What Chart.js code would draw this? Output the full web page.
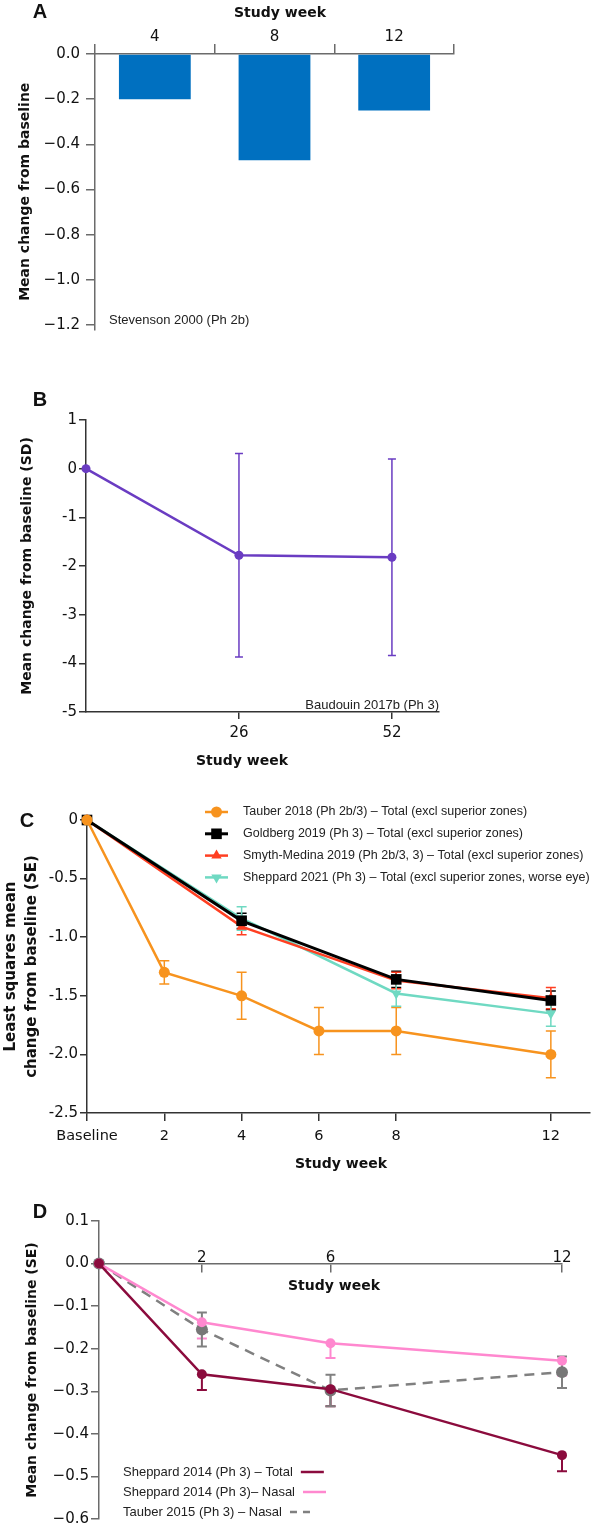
<!DOCTYPE html>
<html>
<head>
<meta charset="utf-8">
<script src="https://cdn.jsdelivr.net/npm/chart.js@4.4.1/dist/chart.umd.min.js"></script>
<style>
  body { margin: 0; width: 597px; height: 1530px; position: relative; background: #fff; overflow: hidden; }
  canvas { position: absolute; left: 0; }
  .c { position: absolute; white-space: nowrap; transform: translate(-50%, -50%); color: #111; }
  .panel { font: bold 20px "Liberation Sans", Arial, sans-serif; }
  .xt { font: bold 14px "DejaVu Sans", sans-serif; }
  .note { position: absolute; white-space: nowrap; transform: translateY(-50%); font: 13px "Liberation Sans", Arial, sans-serif; color: #222; }
</style>
</head>
<body>
<canvas id="chartA" width="597" height="345" style="top:0"></canvas>
<canvas id="chartB" width="597" height="400" style="top:380px"></canvas>
<canvas id="chartC" width="597" height="400" style="top:785px"></canvas>
<canvas id="chartD" width="597" height="340" style="top:1190px"></canvas>

<div class="c panel" style="left:40px;top:11px">A</div>
<div class="c xt" style="left:280px;top:12px">Study week</div>
<div class="note" style="left:109px;top:319px">Stevenson 2000 (Ph 2b)</div>

<div class="c panel" style="left:40px;top:399px">B</div>
<div class="c xt" style="left:242px;top:760px">Study week</div>
<div class="note" style="right:158px;top:704px">Baudouin 2017b (Ph 3)</div>

<div class="c panel" style="left:27px;top:820px">C</div>
<div class="c xt" style="left:341px;top:1163px">Study week</div>

<div class="c panel" style="left:40px;top:1211px">D</div>
<div class="c xt" style="left:334px;top:1285px">Study week</div>

<script>
// ---- A: Stevenson 2000 (Ph 2b), bars
const weeksA = ['4', '8', '12'];
const changeA = [-0.2, -0.47, -0.25];
const yTicksA = [0, -0.2, -0.4, -0.6, -0.8, -1.0, -1.2];

// ---- B: Baudouin 2017b (Ph 3), mean (SD)
const weeksB = [0, 26, 52];
const meanB = [0, -1.78, -1.82];
const sdB = [0, 2.09, 2.02];
const xTicksB = [26, 52];

// ---- C: least squares mean change (SE)
const weeksTauber18 = [0, 2, 4, 6, 8, 12];
const tauber18 = [0, -1.3, -1.5, -1.8, -1.8, -2.0];
const tauber18SE = [0, 0.1, 0.2, 0.2, 0.2, 0.2];
const weeksOther = [0, 4, 8, 12];
const goldberg19 = [0, -0.86, -1.36, -1.54];
const goldberg19SE = [0, 0.065, 0.07, 0.08];
const smyth19 = [0, -0.91, -1.37, -1.52];
const smyth19SE = [0, 0.07, 0.07, 0.09];
const sheppard21 = [0, -0.84, -1.48, -1.65];
const sheppard21SE = [0, 0.1, 0.11, 0.11];
const xTicksC = [0, 2, 4, 6, 8, 12];

// ---- D: mean change (SE)
const weeksD = [0, 2, 6, 12];
const shepTotal = [0, -0.26, -0.295, -0.45];
const shepTotalSE = [0, 0.037, 0.04, 0.038];
const shepNasal = [0, -0.138, -0.187, -0.228];
const shepNasalSE = [0, 0.038, 0.035, 0.035];
const tauber15 = [0, -0.155, -0.298, -0.255];
const tauber15SE = [0, 0.04, 0.037, 0.037];
const xTicksD = [2, 6, 12];

Chart.defaults.font.family = '"DejaVu Sans", sans-serif';
Chart.defaults.color = '#111';
Chart.defaults.animation = false;
Chart.defaults.plugins.legend.display = false;
Chart.defaults.plugins.tooltip.enabled = false;

const pts = (xs, ys) => xs.map((x, i) => ({ x: x, y: ys[i] }));
const minus = s => s.replace('-', '\u2212');
const setTicks = vals => s => { s.ticks = vals.map(v => ({ value: v })); };

// x axis for D is not evenly spaced in the source: piecewise linear between weeks
class StretchScale extends Chart.LinearScale {
  _pieces() {
    const k = weeksD, w = this.options.spans;
    const total = w.reduce((a, b) => a + b, 0);
    return { k, w, total };
  }
  getPixelForValue(value) {
    const { k, w, total } = this._pieces();
    let acc = 0;
    for (let i = 0; i < w.length; i++) {
      if (value <= k[i + 1] || i === w.length - 1) {
        const f = (acc + (value - k[i]) / (k[i + 1] - k[i]) * w[i]) / total;
        return this.getPixelForDecimal(f);
      }
      acc += w[i];
    }
  }
  getValueForPixel(pixel) {
    const { k, w, total } = this._pieces();
    const f = this.getDecimalForPixel(pixel) * total;
    let acc = 0;
    for (let i = 0; i < w.length; i++) {
      if (f <= acc + w[i] || i === w.length - 1) return k[i] + (f - acc) / w[i] * (k[i + 1] - k[i]);
      acc += w[i];
    }
  }
}
StretchScale.id = 'stretch';
StretchScale.defaults = Chart.LinearScale.defaults;
Chart.register(StretchScale);

const errorBars = {
  id: 'errorBars',
  beforeDatasetsDraw(chart) {
    const ctx = chart.ctx;
    chart.data.datasets.forEach((ds, i) => {
      if (!ds.err) return;
      const meta = chart.getDatasetMeta(i);
      const ys = chart.scales[meta.yAxisID];
      ctx.save();
      ctx.strokeStyle = ds.errColor || ds.borderColor;
      ctx.lineWidth = ds.errWidth || 1.5;
      ctx.setLineDash([]);
      meta.data.forEach((pt, j) => {
        const e = ds.err[j];
        if (!e) return;
        const v = ds.data[j].y;
        const hi = ys.getPixelForValue(v + e);
        const lo = ys.getPixelForValue(v - e);
        const c = ds.capHalf || 4;
        ctx.beginPath();
        ctx.moveTo(pt.x, ds.errDown ? pt.y : hi);
        ctx.lineTo(pt.x, lo);
        ctx.moveTo(pt.x - c, lo); ctx.lineTo(pt.x + c, lo);
        if (!ds.errDown) { ctx.moveTo(pt.x - c, hi); ctx.lineTo(pt.x + c, hi); }
        ctx.stroke();
      });
      ctx.restore();
    });
  }
};

const lineLegend = {
  id: 'lineLegend',
  afterDraw(chart, args, o) {
    if (!o.rows) return;
    const ctx = chart.ctx;
    ctx.save();
    ctx.font = o.font;
    ctx.textBaseline = 'middle';
    chart.data.datasets.forEach((ds, i) => {
      const y = o.y + i * o.rowH;
      let tx = o.x + o.lineW + o.gap, lx = o.x;
      if (o.textFirst) { tx = o.x; lx = o.x + ctx.measureText(ds.label).width + o.gap; }
      ctx.fillStyle = '#222';
      ctx.fillText(ds.label, tx, y);
      ctx.strokeStyle = ds.borderColor;
      ctx.lineWidth = ds.borderWidth;
      ctx.setLineDash(ds.legendDash || []);
      ctx.beginPath(); ctx.moveTo(lx, y); ctx.lineTo(lx + o.lineW, y); ctx.stroke();
      ctx.setLineDash([]);
      if (o.markers) {
        ctx.fillStyle = ds.borderColor;
        Chart.helpers.drawPoint(ctx, { pointStyle: ds.pointStyle, radius: ds.pointRadius, rotation: ds.pointRotation || 0, borderWidth: 0 }, lx + o.lineW / 2, y);
      }
    });
    ctx.restore();
  }
};

const tickFont = { size: 15 };
const axisBits = (color, tl) => ({
  grid: { drawOnChartArea: false, drawTicks: true, tickLength: tl, color: color, lineWidth: 1.5 },
  border: { color: color, width: 1.5 }
});

// ---------- A ----------
new Chart(document.getElementById('chartA'), {
  type: 'bar',
  data: {
    labels: weeksA,
    datasets: [{ data: changeA, backgroundColor: '#0070c0', barPercentage: 0.6, categoryPercentage: 1 }]
  },
  options: {
    responsive: false,
    layout: { padding: { top: 24, bottom: 15.5, left: 0, right: 143 } },
    scales: {
      x: {
        position: 'top',
        ...axisBits('#6b6b6b', 10),
        grid: { offset: true, drawOnChartArea: false, tickLength: 10, color: '#6b6b6b', lineWidth: 1.5 },
        ticks: { font: tickFont, padding: -2, color: '#111' },
        afterFit: s => { s.height = 30; }
      },
      y: {
        min: -1.22, max: 0,
        ...axisBits('#6b6b6b', 9),
        afterBuildTicks: setTicks(yTicksA),
        ticks: { font: tickFont, padding: 6, callback: v => v === 0 ? '0.0' : minus(v.toFixed(1)) },
        title: { display: true, text: 'Mean change from baseline', font: { size: 14, weight: 'bold' }, padding: { top: 16.6, bottom: 0 } },
        afterFit: s => { s.width = 95; }
      }
    }
  }
});

// ---------- B ----------
new Chart(document.getElementById('chartB'), {
  type: 'line',
  data: {
    datasets: [{
      data: pts(weeksB, meanB), err: sdB, errWidth: 1.5, capHalf: 4,
      borderColor: '#6a3cc2', backgroundColor: '#6a3cc2', borderWidth: 2.5,
      pointRadius: 4.5, pointBackgroundColor: '#6a3cc2', pointBorderWidth: 0, tension: 0, clip: false
    }]
  },
  options: {
    responsive: false,
    layout: { padding: { top: 40, bottom: 38, left: 0, right: 158 } },
    scales: {
      x: {
        type: 'linear', min: 0, max: 60,
        ...axisBits('#333', 7),
        afterBuildTicks: setTicks(xTicksB),
        ticks: { font: tickFont, padding: 5 },
        afterFit: s => { s.height = 30; }
      },
      y: {
        min: -5, max: 1,
        ...axisBits('#333', 7),
        ticks: { font: tickFont, stepSize: 1, padding: 2, callback: v => String(v) },
        title: { display: true, text: 'Mean change from baseline (SD)', font: { size: 14, weight: 'bold' }, padding: { top: 18.6, bottom: 0 } },
        afterFit: s => { s.width = 86; }
      }
    }
  },
  plugins: [errorBars]
});

// ---------- C ----------
const lineC = (label, xs, ys, se, color, style, r, extra) => Object.assign({
  label: label, data: pts(xs, ys), err: se, errWidth: 1.5, capHalf: 5,
  borderColor: color, backgroundColor: color, borderWidth: 2.5,
  pointStyle: style, pointRadius: r, pointBackgroundColor: color, pointBorderWidth: 0,
  tension: 0, clip: false
}, extra || {});

new Chart(document.getElementById('chartC'), {
  type: 'line',
  data: {
    datasets: [
      lineC('Tauber 2018 (Ph 2b/3) \u2013 Total (excl superior zones)', weeksTauber18, tauber18, tauber18SE, '#f7931e', 'circle', 5.5),
      lineC('Goldberg 2019 (Ph 3) \u2013 Total (excl superior zones)', weeksOther, goldberg19, goldberg19SE, '#000000', 'rect', 7.5, { borderWidth: 3 }),
      lineC('Smyth-Medina 2019 (Ph 2b/3, 3) \u2013 Total (excl superior zones)', weeksOther, smyth19, smyth19SE, '#ff3f22', 'triangle', 6),
      lineC('Sheppard 2021 (Ph 3) \u2013 Total (excl superior zones, worse eye)', weeksOther, sheppard21, sheppard21SE, '#6fd9c2', 'triangle', 6, { pointRotation: 180 })
    ]
  },
  options: {
    responsive: false,
    layout: { padding: { top: 35, bottom: 42, left: 0, right: 3 } },
    plugins: {
      lineLegend: { rows: true, x: 205, y: 27, rowH: 21.8, lineW: 23, gap: 15, font: '12.5px "Liberation Sans", Arial, sans-serif', markers: true }
    },
    scales: {
      x: {
        type: 'linear', min: 0, max: 13,
        ...axisBits('#333', 8),
        afterBuildTicks: setTicks(xTicksC),
        ticks: { font: { size: 14.5 }, padding: 7, autoSkip: false, maxRotation: 0, callback: v => v === 0 ? 'Baseline' : String(v) },
        afterFit: s => { s.height = 30; }
      },
      y: {
        min: -2.5, max: 0,
        ...axisBits('#333', 7),
        ticks: { font: tickFont, stepSize: 0.5, padding: 2, callback: v => v === 0 ? '0' : v.toFixed(1) },
        title: { display: true, text: ['Least squares mean', 'change from baseline (SE)'], font: { size: 15, weight: 'bold', lineHeight: 1.4 }, padding: { top: 0.5, bottom: 0 } },
        afterFit: s => { s.width = 87; }
      }
    }
  },
  plugins: [errorBars, lineLegend]
});

// ---------- D ----------
new Chart(document.getElementById('chartD'), {
  type: 'line',
  data: {
    datasets: [
      { label: 'Sheppard 2014 (Ph 3) \u2013 Total', data: pts(weeksD, shepTotal), err: shepTotalSE, errDown: true, errWidth: 2, capHalf: 5,
        borderColor: '#8b0b3d', borderWidth: 2.5, pointRadius: 5, pointBackgroundColor: '#8b0b3d', pointBorderWidth: 0, tension: 0, clip: false },
      { label: 'Sheppard 2014 (Ph 3)\u2013 Nasal', data: pts(weeksD, shepNasal), err: shepNasalSE, errDown: true, errWidth: 2, capHalf: 5,
        borderColor: '#ff88cf', borderWidth: 2.5, pointRadius: 5, pointBackgroundColor: '#ff88cf', pointBorderWidth: 0, tension: 0, clip: false },
      { label: 'Tauber 2015 (Ph 3) \u2013 Nasal', data: pts(weeksD, tauber15), err: tauber15SE, errWidth: 2, capHalf: 5,
        borderColor: '#808080', borderWidth: 2.5, borderDash: [10, 7], legendDash: [7, 6], pointRadius: 6, pointBackgroundColor: '#777', pointBorderWidth: 0, tension: 0, clip: false }
    ]
  },
  options: {
    responsive: false,
    layout: { padding: { top: 31, bottom: 10, left: 0, right: 35 } },
    plugins: {
      lineLegend: { rows: true, textFirst: true, x: 123, y: 282, rowH: 20, lineW: 23, gap: 8, font: '13px "Liberation Sans", Arial, sans-serif' }
    },
    scales: {
      x: {
        type: 'stretch', min: 0, max: 12, spans: [4, 5, 9],
        position: { y: 0 },
        ...axisBits('#6b6b6b', 8),
        afterBuildTicks: setTicks(xTicksD),
        ticks: { font: tickFont, padding: -22, autoSkip: false, maxRotation: 0, callback: v => String(v) },
        afterFit: s => { s.height = 0; }
      },
      y: {
        min: -0.6, max: 0.1,
        ...axisBits('#6b6b6b', 8),
        ticks: { font: tickFont, stepSize: 0.1, padding: 2, callback: v => Math.abs(v) < 1e-9 ? '0.0' : minus(v.toFixed(1)) },
        title: { display: true, text: 'Mean change from baseline (SE)', font: { size: 14, weight: 'bold' }, padding: { top: 23.6, bottom: 0 } },
        afterFit: s => { s.width = 99; }
      }
    }
  },
  plugins: [errorBars, lineLegend]
});
</script>
</body>
</html>
